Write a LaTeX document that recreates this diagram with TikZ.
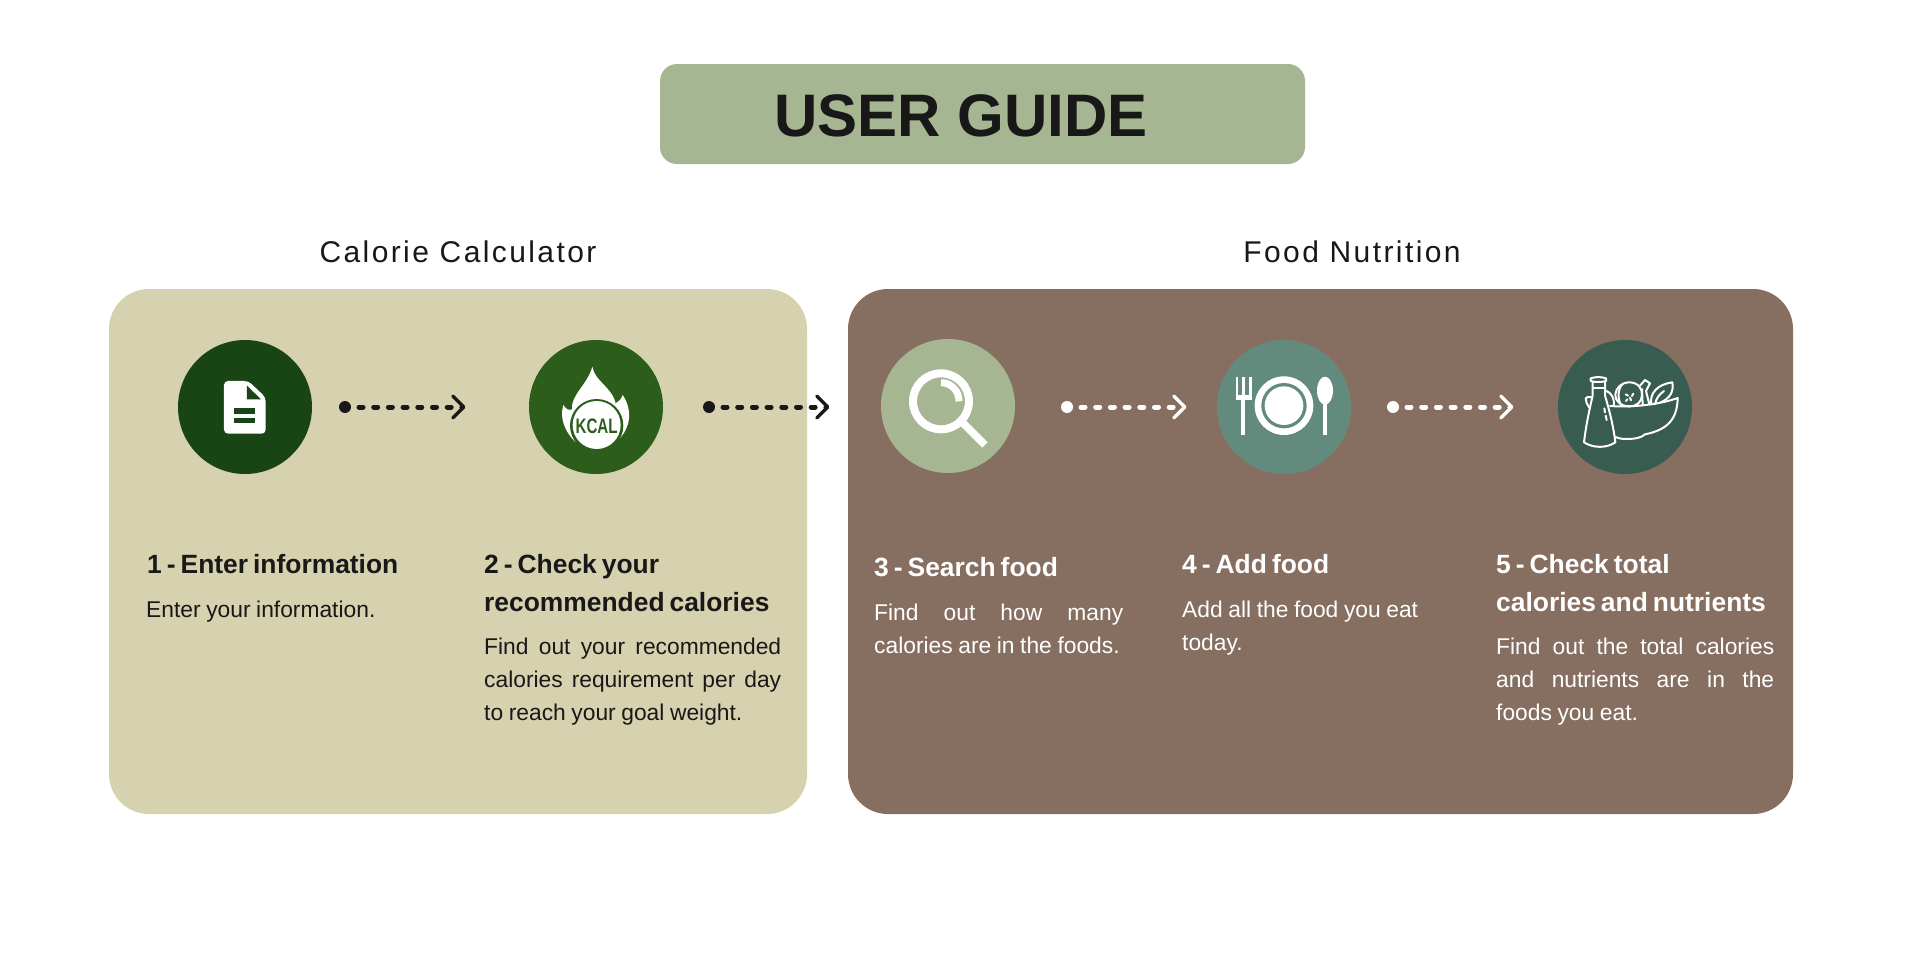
\documentclass[tikz,border=0pt]{standalone}
\usepackage{fontspec}
\usepackage{graphicx}
\setmainfont{Liberation Sans}
\newfontfamily\subfont[LetterSpace=8]{Liberation Sans}
\newcommand\hsp{\spaceskip=5pt\relax}
\newcommand\bsp{\spaceskip=5.6pt plus 6pt minus 1pt\relax}
\usetikzlibrary{arrows.meta}
\definecolor{ink}{HTML}{181818}
\definecolor{sage}{HTML}{A6B693}
\definecolor{sand}{HTML}{D6D1AE}
\definecolor{umber}{HTML}{866F60}
\definecolor{cA}{HTML}{194413}
\definecolor{cB}{HTML}{2D5D1B}
\definecolor{cD}{HTML}{628B7E}
\definecolor{cE}{HTML}{385C4F}
\tikzset{
  x=1pt,y=-1pt,
  badge/.style={circle,minimum size=134pt,inner sep=0,outer sep=0},
  dot/.style={circle,fill=#1,minimum size=12pt,inner sep=0,outer sep=0},
  flow/.style={draw=#1,line width=5pt,line cap=round,dash pattern=on 4pt off 10.7pt,shorten <=8pt,
     -{Straight Barb[length=11pt,width=22pt,line width=3.5pt,round,#1]}},
  head/.style={anchor=base west,inner sep=0,text width=310pt,align=left,font=\bfseries\fontsize{26.4}{38}\selectfont},
  bodytxt/.style={anchor=base west,inner sep=0,text width=300pt,align=justify,font=\fontsize{22.8}{33}\selectfont},
  zoomed/.style={shift={#1},x=0.3333pt,y=-0.3333pt},
}
\begin{document}
\begin{tikzpicture}
\useasboundingbox (0,0) rectangle (1920,980);
\fill[white] (0,0) rectangle (1920,980);
% title
\fill[sage,rounded corners=17pt] (660,64) rectangle (1305,164);
\node[anchor=base,inner sep=0,text=ink,font=\bfseries\fontsize{60}{60}\selectfont] (title) at (961,136) {USER GUIDE};
% panels
\fill[sand,rounded corners=40pt] (109,289) rectangle (807,814);
\fill[umber,rounded corners=40pt] (848,289) rectangle (1793,814);
\node[anchor=base,inner sep=0,text=ink,font=\subfont\fontsize{30}{30}\selectfont] (calc) at (458,262) {Calorie Calculator};
\node[anchor=base,inner sep=0,text=ink,font=\subfont\fontsize{30}{30}\selectfont] (food) at (1352,262) {Food Nutrition};
% badges
\node[badge,fill=cA] (b1) at (245,407) {};
\node[badge,fill=cB] (b2) at (596,407) {};
\node[badge,fill=sage] (b3) at (948,406) {};
\node[badge,fill=cD] (b4) at (1284,407) {};
\node[badge,fill=cE] (b5) at (1625,407) {};
% arrows
\node[dot=ink] (d1) at (345,407) {}; \coordinate (t1) at (465.5,407);
\node[dot=ink] (d2) at (709,407) {}; \coordinate (t2) at (829.5,407);
\node[dot=white] (d3) at (1067,407) {}; \coordinate (t3) at (1186.5,407);
\node[dot=white] (d4) at (1393,407) {}; \coordinate (t4) at (1513.5,407);
\draw[flow=ink] (d1) -- (t1);
\draw[flow=ink] (d2) -- (t2);
\draw[flow=white] (d3) -- (t3);
\draw[flow=white] (d4) -- (t4);
% document icon
\begin{scope}[zoomed={(150,320)}]
\fill[white,rounded corners=4pt] (222,183) -- (295,183) -- (347,232) -- (347,341) -- (222,341) -- cycle;
\fill[cA] (291,197) -- (333,238) -- (291,238) -- cycle;
\fill[cA] (253,263) rectangle (315,283);
\fill[cA] (253,293) rectangle (315,309);
\end{scope}
% flame icon
\begin{scope}[zoomed={(500,320)}]
\fill[white] (225,365) .. controls (195,335) and (178,295) .. (190,255)
  .. controls (198,268) and (207,272) .. (216,268)
  .. controls (212,225) and (262,195) .. (277,140)
  .. controls (285,185) and (335,200) .. (347,250)
  .. controls (356,245) and (364,238) .. (368,225)
  .. controls (395,265) and (398,320) .. (350,365) -- cycle;
\fill[cB] (290,317) circle [radius=80];
\fill[white] (290,315) circle [radius=72];
\node[inner sep=0,text=cB,font=\bfseries\fontsize{21}{21}\selectfont] (kcal) at (290,318) {\scalebox{0.72}[1]{KCAL}};
\end{scope}
% magnifier
\begin{scope}[zoomed={(860,320)}]
\draw[white,line width=8pt] (243,244) circle [radius=84];
\draw[white,line width=7.5pt] (307,307) -- (375,375);
\draw[white,line width=7pt] (243,188) .. controls (274,188) and (297,213) .. (297,244);
\end{scope}
% cutlery
\begin{scope}[zoomed={(1200,320)}]
\fill[white] (107,170) rectangle (115,240);
\fill[white] (127,170) rectangle (135,240);
\fill[white] (147,170) rectangle (155,240);
\fill[white] (107,226) rectangle (155,240);
\fill[white] (124,230) rectangle (136,345);
\fill[white] (252,257) circle [radius=88];
\fill[cD] (252,257) circle [radius=68];
\fill[white] (252,257) circle [radius=58];
\fill[white] (375,212) ellipse [x radius=24,y radius=42];
\fill[white] (370,240) rectangle (381,345);
\end{scope}
% salad
\begin{scope}[zoomed={(1570,365)},draw=white,line width=2pt,line cap=round,line join=round]
% bottle
\draw (62,40) .. controls (75,35) and (95,35) .. (108,40) -- (108,48) .. controls (95,52) and (75,52) .. (62,48) -- cycle;
\draw (68,52) -- (68,92) .. controls (60,125) and (48,180) .. (42,232)
  .. controls (70,250) and (110,250) .. (136,232)
  .. controls (130,180) and (115,125) .. (105,92) -- (105,52);
\draw (68,68) -- (105,68);
\draw (103,130) -- (105,142);
\draw (107,152) -- (110,165);
% bowl
\draw (66,97) .. controls (55,95) and (48,96) .. (47,100) .. controls (47,110) and (52,120) .. (58,128);
\draw (120,123) .. controls (190,128) and (270,118) .. (323,99)
  .. controls (322,165) and (290,195) .. (225,208)
  .. controls (215,218) and (195,222) .. (170,222)
  .. controls (155,222) and (145,220) .. (135,216);
\draw (110,78) .. controls (125,85) and (133,100) .. (132,120);
% cucumber
\draw (178,52) .. controls (205,52) and (218,72) .. (216,92) .. controls (214,112) and (200,124) .. (178,124)
  .. controls (150,124) and (134,105) .. (136,88) .. controls (138,68) and (155,52) .. (178,52);
\draw (158,57) .. controls (142,72) and (142,105) .. (155,122);
\draw (167,88) -- (174,92);
\draw (180,98) -- (183,106);
\draw (190,86) -- (186,93);
\draw (172,103) -- (168,108);
% carrot
\draw (210,62) -- (225,45) -- (240,55) -- (228,78);
\draw (216,72) -- (218,120);
\draw (228,78) -- (238,118);
% leaf
\draw (244,118) .. controls (238,85) and (262,58) .. (307,52)
  .. controls (312,80) and (300,100) .. (272,112);
\draw (255,118) .. controls (258,100) and (268,88) .. (282,78);
\end{scope}
% texts
\node[head,text=ink] (h1) at (147,573) {\hsp 1 - Enter information};
\node[bodytxt,text=ink] (p1) at (146,617) {\bsp Enter your information.};
\node[head,text=ink] (h2) at (484,573) {\hsp 2 - Check your\\recommended calories};
\node[bodytxt,text=ink,text width=297pt] (p2) at (484,654) {\bsp Find out your recommended\linebreak calories requirement per day\linebreak to reach your goal weight.};
\node[head,text=white] (h3) at (874,576) {\hsp 3 - Search food};
\node[bodytxt,text=white,text width=249pt] (p3) at (874,620) {\bsp Find out how many\linebreak calories are in the foods.};
\node[head,text=white] (h4) at (1182,573) {\hsp 4 - Add food};
\node[bodytxt,text=white,text width=270pt] (p4) at (1182,617) {\bsp Add all the food you eat\newline today.};
\node[head,text=white] (h5) at (1496,573) {\hsp 5 - Check total\\calories and nutrients};
\node[bodytxt,text=white,text width=278pt] (p5) at (1496,654) {\bsp Find out the total calories\linebreak and nutrients are in the\linebreak foods you eat.};
\end{tikzpicture}
\end{document}
